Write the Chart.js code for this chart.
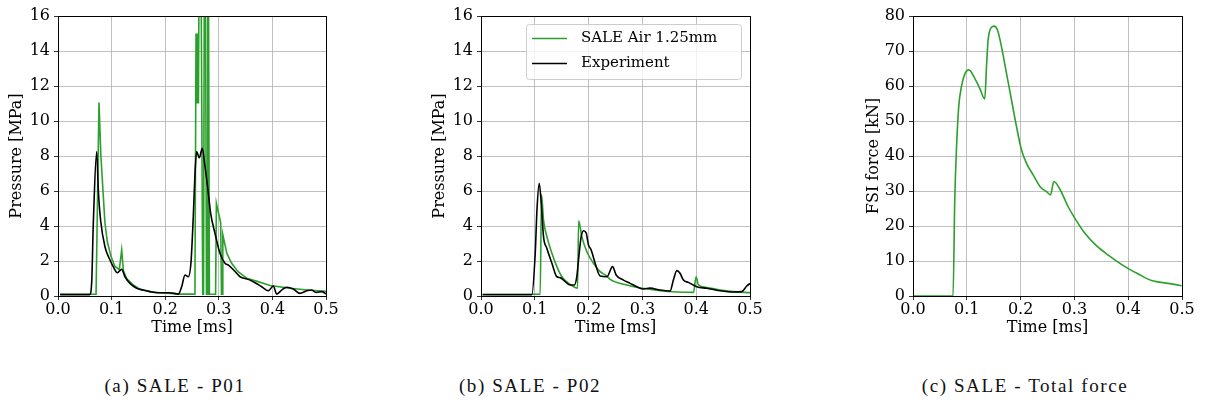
<!DOCTYPE html>
<html>
<head>
<meta charset="utf-8">
<script src="https://cdn.jsdelivr.net/npm/chart.js@4.4.1/dist/chart.umd.min.js"></script>
<style>
  html, body { margin: 0; padding: 0; background: #fff; }
  body { width: 1206px; height: 403px; position: relative; overflow: hidden; }
  canvas { position: absolute; top: 0; }
  .cap { position: absolute; top: 375px; transform: translateX(-50%); white-space: nowrap;
         font-family: "Liberation Serif", serif; font-size: 19px; letter-spacing: 1.6px; color: #111; }
</style>
</head>
<body>
<canvas id="chartA" width="340" height="345" style="left:0px"></canvas>
<canvas id="chartB" width="342" height="345" style="left:422px"></canvas>
<canvas id="chartC" width="341" height="345" style="left:855px"></canvas>
<div class="cap" style="left:175px">(a) SALE - P01</div>
<div class="cap" style="left:530px">(b) SALE - P02</div>
<div class="cap" style="left:1025px">(c) SALE - Total force</div>
<script>
// P01 - SALE Air 1.25mm (time in ms, pressure in MPa)
const aSaleT = [0.004, 0.071, 0.0765, 0.080, 0.084, 0.0875, 0.092, 0.099, 0.106, 0.1144, 0.1188, 0.122, 0.128, 0.1405, 0.153, 0.172, 0.19, 0.228,
  0.2555, 0.2575, 0.259, 0.2605, 0.262, 0.265, 0.270, 0.2715, 0.274, 0.277, 0.278, 0.2795, 0.2825, 0.294, 0.2955, 0.3035, 0.305, 0.3062, 0.3075,
  0.315, 0.324, 0.336, 0.352, 0.37, 0.396, 0.433, 0.47, 0.5];
const aSaleP = [0.1, 0.1, 11.05, 8.0, 6.0, 4.2, 3.1, 2.25, 1.7, 1.5, 2.63, 1.45, 1.0, 0.63, 0.38, 0.25, 0.19, 0.11,
  0.11, 15.0, 11.0, 15.0, 11.0, 30, 0.1, 0.1, 30, 0.1, 0.1, 30, 0.1, 0.1, 5.3, 4.2, 0.1, 0.1, 3.5,
  2.44, 1.87, 1.39, 1.02, 0.85, 0.6, 0.44, 0.33, 0.27];

// P01 - Experiment
const aExpT = [0.004, 0.059, 0.0628, 0.0659, 0.0722, 0.0752, 0.0796, 0.0877, 0.097, 0.103, 0.1107, 0.1188, 0.125, 0.1343, 0.1468, 0.159, 0.172, 0.184,
  0.209, 0.2245, 0.2307, 0.237, 0.243, 0.248, 0.2525, 0.2556, 0.2587, 0.2636, 0.2692, 0.2743, 0.2805, 0.2848, 0.2929, 0.3022, 0.3116, 0.318,
  0.3333, 0.3396, 0.355, 0.3675, 0.38, 0.3924, 0.4017, 0.408, 0.4173, 0.4267, 0.439, 0.4515, 0.464, 0.473, 0.482, 0.492, 0.5];
const aExpP = [0.08, 0.08, 0.74, 4.17, 8.25, 6.06, 4.3, 2.8, 2.06, 1.68, 1.33, 1.52, 1.1, 0.72, 0.44, 0.34, 0.25, 0.19,
  0.19, 0.11, 0.53, 1.2, 1.1, 1.87, 4.6, 7.0, 8.25, 7.9, 8.44, 7.39, 5.87, 4.72, 3.58, 2.44, 1.87, 1.77,
  1.3, 1.1, 0.95, 0.76, 0.53, 0.3, 0.57, 0.11, 0.34, 0.5, 0.4, 0.15, 0.3, 0.34, 0.2, 0.25, 0.12];

// P02 - SALE Air 1.25mm
const bSaleT = [0.003, 0.11, 0.1125, 0.1162, 0.1225, 0.1318, 0.141, 0.1504, 0.1628, 0.175, 0.1795, 0.1815, 0.1874, 0.1968, 0.209, 0.2215, 0.234,
  0.24, 0.271, 0.30, 0.333, 0.364, 0.395, 0.3998, 0.4041, 0.4196, 0.4443, 0.469, 0.5];
const bSaleP = [0.1, 0.1, 5.8, 4.34, 3.39, 2.44, 1.68, 1.1, 0.72, 0.49, 0.45, 4.3, 3.39, 2.53, 1.87, 1.39, 1.14,
  0.95, 0.63, 0.44, 0.3, 0.23, 0.21, 1.1, 0.63, 0.49, 0.34, 0.25, 0.19];

// P02 - Experiment
const bExpT = [0.003, 0.0946, 0.1008, 0.104, 0.1082, 0.112, 0.1162, 0.1225, 0.1318, 0.141, 0.1472, 0.1565, 0.1658, 0.1738, 0.178, 0.1825, 0.1862,
  0.1905, 0.1955, 0.1998, 0.2048, 0.2122, 0.2215, 0.234, 0.2445, 0.2512, 0.2648, 0.2772, 0.2896, 0.302, 0.3143, 0.333, 0.3515, 0.3576, 0.364,
  0.37, 0.3762, 0.3855, 0.401, 0.4196, 0.4443, 0.469, 0.4845, 0.494, 0.5];
const bExpP = [0.07, 0.07, 2.44, 4.9, 6.44, 5.3, 3.39, 2.72, 1.87, 1.1, 1.05, 0.82, 0.63, 0.63, 1.1, 2.44, 3.39,
  3.73, 3.6, 2.91, 2.63, 1.87, 1.14, 1.1, 1.68, 1.2, 0.91, 0.72, 0.53, 0.4, 0.45, 0.34, 0.29, 0.91, 1.45,
  1.3, 0.91, 0.78, 0.53, 0.44, 0.3, 0.23, 0.25, 0.57, 0.72];

// Total FSI force (kN)
const cT = [0, 0.0744, 0.0776, 0.0807, 0.085, 0.09, 0.0962, 0.1037, 0.1148, 0.1241, 0.1334, 0.1366, 0.1396, 0.1446, 0.1502, 0.157, 0.1645, 0.1738,
  0.1831, 0.1924, 0.2017, 0.211, 0.2233, 0.2376, 0.2482, 0.2557, 0.2618, 0.273, 0.2884, 0.3009, 0.3195, 0.3413, 0.3629, 0.394, 0.4187, 0.4436,
  0.4746, 0.4994];
const cF = [0, 0, 27.4, 41.7, 54.1, 59.8, 63.4, 64.6, 62.2, 59.3, 56.3, 65.5, 73.1, 76.5, 77.1, 76, 71.2, 63.6,
  56, 48.4, 41.7, 37.9, 34.6, 31.0, 29.8, 28.9, 32.7, 30.5, 25.5, 22.2, 17.9, 14.3, 11.7, 8.4, 6.3, 4.4,
  3.6, 2.95];

const xTicksMax = 0.5;
const pressureMax = 16;
const forceMax = 80;

const GREEN = '#2ca02c';
const BLACK = '#000000';
const tickFont = { family: 'DejaVu Serif', size: 16 };

function zip(ts, vs) {
  return ts.map((t, i) => ({ x: t, y: vs[i] }));
}

// Draws the full matplotlib-style axes frame
const framePlugin = {
  id: 'frame',
  afterDatasetsDraw(chart) {
    const { ctx, chartArea: a } = chart;
    ctx.save();
    ctx.strokeStyle = '#000';
    ctx.lineWidth = 1;
    ctx.strokeRect(Math.round(a.left) + 0.5, Math.round(a.top) + 0.5,
      Math.round(a.right - a.left), Math.round(a.bottom - a.top));
    ctx.restore();
  }
};

// matplotlib-like legend box in upper right
const boxLegendPlugin = {
  id: 'boxLegend',
  afterDraw(chart, args, opts) {
    if (!opts.show) return;
    const { ctx, chartArea: a } = chart;
    const w = 215, h = 55;
    const x0 = a.right - 9 - w, y0 = a.top + 8;
    ctx.save();
    ctx.beginPath();
    ctx.roundRect(x0 + 0.5, y0 + 0.5, w, h, 3);
    ctx.fillStyle = 'rgba(255,255,255,0.8)';
    ctx.fill();
    ctx.strokeStyle = '#cccccc';
    ctx.lineWidth = 1;
    ctx.stroke();
    ctx.font = '15px "DejaVu Serif"';
    ctx.textBaseline = 'middle';
    chart.data.datasets.forEach((ds, i) => {
      const y = y0 + 14.5 + i * 25;
      ctx.strokeStyle = ds.borderColor;
      ctx.lineWidth = 1.5;
      ctx.beginPath();
      ctx.moveTo(x0 + 6, y);
      ctx.lineTo(x0 + 41, y);
      ctx.stroke();
      ctx.fillStyle = '#000';
      ctx.fillText(ds.label, x0 + 55, y);
    });
    ctx.restore();
  }
};

function makeChart(id, datasets, yMax, yStep, yTitle, yWidth, yTitlePad, showLegend) {
  return new Chart(document.getElementById(id), {
    type: 'line',
    data: { datasets: datasets },
    options: {
      responsive: false,
      devicePixelRatio: 1,
      animation: false,
      parsing: false,
      layout: { padding: { top: 16, right: 14, left: 0, bottom: 0 } },
      plugins: {
        legend: { display: false },
        tooltip: { enabled: false },
        boxLegend: { show: showLegend }
      },
      elements: { point: { radius: 0 } },
      scales: {
        x: {
          type: 'linear', min: 0, max: xTicksMax,
          ticks: { stepSize: 0.1, callback: v => v.toFixed(1), font: tickFont, color: '#000', padding: 0, maxRotation: 0, autoSkip: false },
          grid: { color: '#b0b0b0', lineWidth: 0.8, tickColor: '#000', tickLength: 4 },
          border: { color: '#000', width: 1 },
          title: { display: true, text: 'Time [ms]', font: tickFont, color: '#000', padding: { top: 0, bottom: 7.5 } },
          afterFit: s => { s.height = 49; }
        },
        y: {
          type: 'linear', min: 0, max: yMax,
          ticks: { stepSize: yStep, callback: v => String(v), font: tickFont, color: '#000', padding: 4, autoSkip: false },
          grid: { color: '#b0b0b0', lineWidth: 0.8, tickColor: '#000', tickLength: 4 },
          border: { color: '#000', width: 1 },
          title: { display: true, text: yTitle, font: tickFont, color: '#000', padding: { top: yTitlePad, bottom: 0 } },
          afterFit: s => { s.width = yWidth; }
        }
      }
    },
    plugins: [framePlugin, boxLegendPlugin]
  });
}

function saleSet(points, smooth) {
  return { label: 'SALE Air 1.25mm', data: points, borderColor: GREEN, borderWidth: 1.6, fill: false,
    cubicInterpolationMode: smooth ? 'monotone' : 'default', tension: 0, order: 1 };
}
function expSet(points, smooth) {
  return { label: 'Experiment', data: points, borderColor: BLACK, borderWidth: 1.6, fill: false,
    cubicInterpolationMode: smooth ? 'monotone' : 'default', tension: 0, order: 0 };
}

makeChart('chartA', [saleSet(zip(aSaleT, aSaleP), false), expSet(zip(aExpT, aExpP), true)],
  pressureMax, 2, 'Pressure [MPa]', 58, 7, false);

makeChart('chartB', [saleSet(zip(bSaleT, bSaleP), true), expSet(zip(bExpT, bExpP), true)],
  pressureMax, 2, 'Pressure [MPa]', 59, 8.5, true);

makeChart('chartC', [saleSet(zip(cT, cF), true)],
  forceMax, 10, 'FSI force [kN]', 58, 9, false);
</script>
</body>
</html>
